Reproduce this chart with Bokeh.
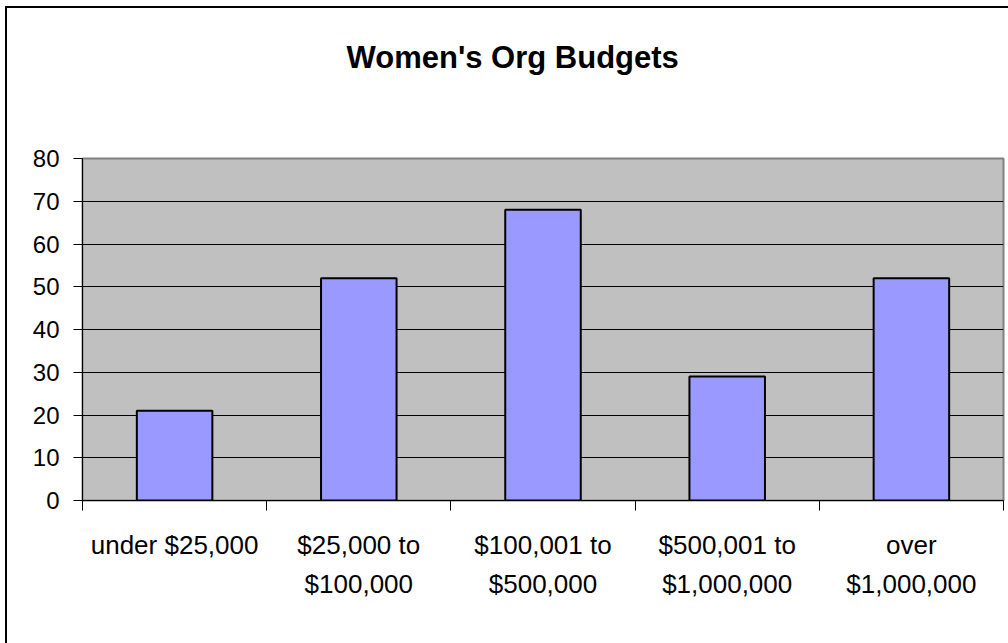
from bokeh.plotting import figure
from bokeh.models import FixedTicker, Range1d, Title
from bokeh.embed import file_html
from bokeh.resources import INLINE

title_text = "Women's Org Budgets"
categories = ["under $25,000", "$25,000 to\n$100,000", "$100,001 to\n$500,000",
              "$500,001 to\n$1,000,000", "over\n$1,000,000"]
values = [21, 52, 68, 29, 52]
y_ticks = [0, 10, 20, 30, 40, 50, 60, 70, 80]

xs = [i + 0.5 for i in range(len(categories))]

p = figure(width=1008, height=643, output_backend="svg", toolbar_location=None,
           x_range=Range1d(0, len(categories)), y_range=Range1d(0, 80),
           min_border_left=82, min_border_right=5, min_border_top=158, min_border_bottom=143)
p.title = None
spacer = Title(text=" ", text_font="Liberation Sans", text_font_size="31px", standoff=47)
p.add_layout(spacer, "above")
t = Title(text=title_text, align="left", offset=264, text_font="Liberation Sans",
          text_font_size="31px", text_font_style="bold", text_color="black", standoff=0)
p.add_layout(t, "above")

p.styles = {
    "background-color": "white",
    "background-image": "linear-gradient(black,black), linear-gradient(black,black)",
    "background-size": "2px 100%, 100% 2px",
    "background-position": "5px 6px, 5px 6px",
    "background-repeat": "no-repeat",
}
p.background_fill_color = "#C0C0C0"
p.border_fill_color = None
p.outline_line_color = "#808080"
p.outline_line_width = 2

p.vbar(x=xs, top=values, width=0.41, bottom=0, fill_color="#9999FF",
       line_color="black", line_width=2)

p.xgrid.visible = False
p.ygrid.ticker = FixedTicker(ticks=y_ticks)
p.ygrid.grid_line_color = "black"
p.ygrid.grid_line_width = 1

xa = p.xaxis[0]
xa.ticker = FixedTicker(ticks=xs, minor_ticks=list(range(len(categories) + 1)))
xa.major_label_overrides = {x: c for x, c in zip(xs, categories)}
xa.major_tick_out = 0
xa.major_tick_in = 0
xa.minor_tick_out = 10
xa.minor_tick_in = 0
xa.minor_tick_line_color = "black"
xa.axis_line_color = "black"
xa.axis_line_width = 1
xa.major_label_text_font = "Liberation Sans"
xa.major_label_text_font_size = "26px"
xa.major_label_text_color = "black"
xa.major_label_text_line_height = 1.3
xa.major_label_standoff = 19

ya = p.yaxis[0]
ya.ticker = FixedTicker(ticks=y_ticks)
ya.major_tick_out = 9
ya.major_tick_in = 0
ya.minor_tick_out = 0
ya.minor_tick_in = 0
ya.axis_line_color = "black"
ya.major_tick_line_color = "black"
ya.major_label_text_font = "Liberation Sans"
ya.major_label_text_font_size = "24px"
ya.major_label_text_color = "black"
ya.major_label_standoff = 14

open("out.html", "w").write(file_html(p, INLINE))
